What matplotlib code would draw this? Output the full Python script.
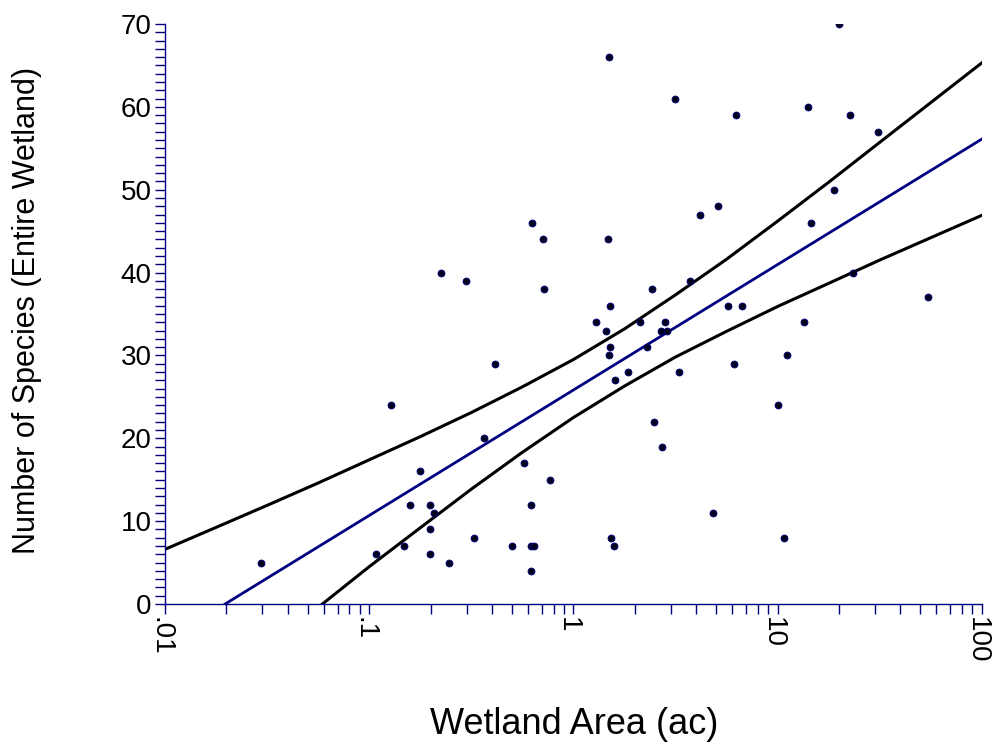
import matplotlib.pyplot as plt
from matplotlib.ticker import MultipleLocator, LogLocator, NullFormatter
from matplotlib.transforms import ScaledTranslation

plt.rcParams['font.family'] = ['Liberation Sans', 'DejaVu Sans']

# Observed wetlands: area (ac) and number of species
area = [0.0295, 0.108, 0.128, 0.148, 0.158, 0.178, 0.198, 0.198, 0.198, 0.207,
        0.225, 0.246, 0.298, 0.326, 0.366, 0.413, 0.502, 0.573, 0.622, 0.622,
        0.641, 0.622, 0.627, 0.710, 0.718, 0.768, 1.29, 1.44, 1.48, 1.49,
        1.49, 1.52, 1.51, 1.53, 1.59, 1.60, 1.85, 2.13, 2.29, 2.42,
        2.48, 2.68, 2.71, 2.80, 2.88, 3.15, 3.28, 3.72, 4.17, 4.83,
        5.11, 5.74, 6.10, 6.26, 6.67, 10.05, 10.8, 11.1, 13.5, 14.1,
        14.6, 18.9, 20.0, 22.6, 23.4, 31.0, 54.5]
species = [5, 6, 24, 7, 12, 16, 12, 9, 6, 11,
           40, 5, 39, 8, 20, 29, 7, 17, 12, 7,
           7, 4, 46, 44, 38, 15, 34, 33, 44, 66,
           30, 31, 36, 8, 7, 27, 28, 34, 31, 38,
           22, 33, 19, 34, 33, 61, 28, 39, 47, 11,
           48, 36, 29, 59, 36, 24, 8, 30, 34, 60,
           46, 50, 70, 59, 40, 57, 37]

# Fitted regression line
fit_x = [0.0197, 100]
fit_y = [0, 56.1]

# Confidence band
band_x = [0.01, 0.0178, 0.0316, 0.0562, 0.1, 0.178, 0.316, 0.562, 1,
          1.78, 3.16, 5.62, 10, 17.8, 31.6, 56.2, 100]
upper_y = [6.6, 9.25, 11.9, 14.6, 17.4, 20.2, 23.1, 26.2, 29.5,
           33.2, 37.3, 41.6, 46.2, 50.9, 55.7, 60.5, 65.3]
lower_x = [0.059, 0.1, 0.178, 0.316, 0.562, 1, 1.78, 3.16, 5.62, 10,
           17.8, 31.6, 56.2, 100]
lower_y = [0, 4.5, 9.2, 13.85, 18.3, 22.5, 26.3, 29.8, 32.9, 35.9,
           38.7, 41.5, 44.2, 46.9]

navy = '#000080'

fig = plt.figure(figsize=(9.92, 7.45), dpi=100)
ax = fig.add_axes([165 / 992, 1 - 604 / 745, 816.7 / 992, 580 / 745])

ax.plot(band_x, upper_y, color='black', lw=2.2)
ax.plot(lower_x, lower_y, color='black', lw=2.2)
ax.plot(fit_x, fit_y, color=navy, lw=2.0)
ax.plot(area, species, 'o', ms=5, mfc='#00001a', mec=navy, mew=0.6)

ax.set_xscale('log')
ax.set_xlim(0.01, 100)
ax.set_ylim(0, 70)
ax.set_xticks([0.01, 0.1, 1, 10, 100])
ax.set_xticklabels(['.01', '.1', '1', '10', '100'], rotation=270, fontsize=20)
ax.xaxis.set_minor_locator(LogLocator(subs=range(2, 10)))
ax.xaxis.set_minor_formatter(NullFormatter())
ax.yaxis.set_major_locator(MultipleLocator(10))
ax.yaxis.set_minor_locator(MultipleLocator(1))
ax.tick_params(axis='y', labelsize=20)

for side in ['top', 'right']:
    ax.spines[side].set_visible(False)
for side in ['left', 'bottom']:
    ax.spines[side].set_color(navy)
    ax.spines[side].set_linewidth(1)
ax.tick_params(which='both', direction='out', length=7.5, width=1, color=navy, pad=2)

# nudge the rotated x labels so the digits sit centred on their ticks
shift = ScaledTranslation(-5 / 100, 0, fig.dpi_scale_trans)
for lbl in ax.get_xticklabels():
    lbl.set_transform(lbl.get_transform() + shift)

fig.text(573.7 / 992, 1 - 724 / 745, 'Wetland Area (ac)', fontsize=26,
         ha='center', va='center')
fig.text(27.5 / 992, 1 - 310.5 / 745, 'Number of Species (Entire Wetland)',
         fontsize=22, rotation=90, ha='center', va='center')

fig.savefig('out.png', dpi=100)
